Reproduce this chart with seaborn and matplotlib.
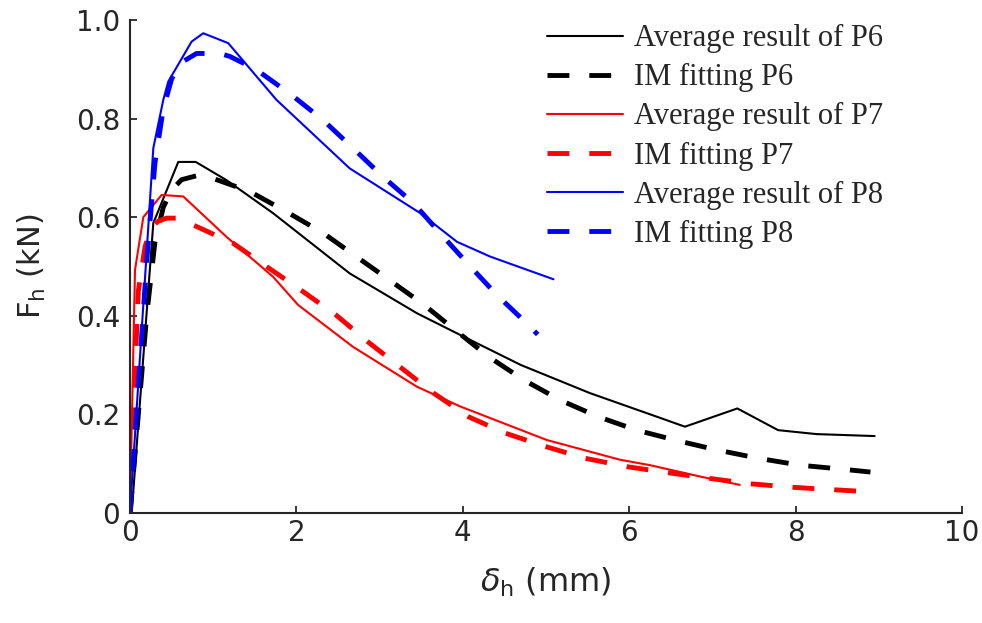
import pandas as pd
import matplotlib
matplotlib.use("Agg")
import matplotlib.pyplot as plt
import seaborn as sns

# Average result of P6
p6_avg_x = [0, 0.02, 0.28, 0.58, 0.79, 1.16, 1.72, 2.64, 3.45, 3.97, 4.7, 5.53, 6.37, 6.67, 7.30, 7.79, 8.25, 8.95]
p6_avg_y = [0, 0.0, 0.588, 0.712, 0.712, 0.675, 0.608, 0.486, 0.405, 0.361, 0.30, 0.243, 0.193, 0.175, 0.212, 0.168, 0.160, 0.156]
# IM fitting P6
p6_fit_x = [0, 0.1, 0.2, 0.3, 0.4, 0.5, 0.62, 0.8, 0.94, 1.44, 1.88, 2.32, 2.72, 3.13, 3.52, 3.93, 4.31, 4.73, 5.17, 5.63, 6.09, 6.57, 7.05, 7.55, 8.05, 8.55, 8.9]
p6_fit_y = [0, 0.2, 0.4, 0.55, 0.62, 0.655, 0.676, 0.684, 0.682, 0.652, 0.611, 0.568, 0.52, 0.471, 0.424, 0.368, 0.317, 0.270, 0.229, 0.195, 0.168, 0.147, 0.128, 0.111, 0.097, 0.089, 0.083]

# Average result of P7
p7_avg_x = [0, 0.03, 0.06, 0.16, 0.38, 0.64, 1.16, 1.72, 2.02, 2.68, 3.45, 3.97, 5.01, 5.89, 6.25, 6.85, 7.33]
p7_avg_y = [0, 0.25, 0.493, 0.60, 0.645, 0.642, 0.56, 0.479, 0.422, 0.337, 0.256, 0.216, 0.148, 0.108, 0.097, 0.074, 0.057]
# IM fitting P7
p7_fit_x = [0, 0.05, 0.1, 0.18, 0.26, 0.34, 0.44, 0.55, 0.8, 1.24, 1.64, 2.08, 2.48, 2.86, 3.27, 3.65, 4.07, 4.51, 4.99, 5.47, 5.97, 6.45, 6.97, 7.47, 7.97, 8.47, 8.89]
p7_fit_y = [0, 0.25, 0.45, 0.54, 0.58, 0.592, 0.598, 0.598, 0.581, 0.547, 0.50, 0.449, 0.401, 0.347, 0.293, 0.243, 0.195, 0.162, 0.135, 0.111, 0.094, 0.082, 0.070, 0.059, 0.052, 0.047, 0.043]

# Average result of P8
p8_avg_x = [0, 0.28, 0.40, 0.46, 0.74, 0.88, 1.18, 1.76, 2.64, 3.49, 3.93, 4.33, 5.09]
p8_avg_y = [0, 0.74, 0.838, 0.875, 0.956, 0.973, 0.953, 0.838, 0.699, 0.608, 0.55, 0.52, 0.474]
# IM fitting P8
p8_fit_x = [0, 0.1, 0.2, 0.3, 0.4, 0.5, 0.6, 0.8, 1.08, 1.20, 1.52, 1.94, 2.32, 2.68, 3.04, 3.41, 3.73, 4.09, 4.41, 4.79, 4.9]
p8_fit_y = [0, 0.26, 0.51, 0.71, 0.82, 0.88, 0.912, 0.932, 0.932, 0.926, 0.899, 0.848, 0.797, 0.74, 0.682, 0.628, 0.567, 0.50, 0.442, 0.381, 0.362]

series = [
    ("Average result of P6", p6_avg_x, p6_avg_y, "black", "solid"),
    ("IM fitting P6", p6_fit_x, p6_fit_y, "black", "dashed"),
    ("Average result of P7", p7_avg_x, p7_avg_y, "red", "solid"),
    ("IM fitting P7", p7_fit_x, p7_fit_y, "red", "dashed"),
    ("Average result of P8", p8_avg_x, p8_avg_y, "blue", "solid"),
    ("IM fitting P8", p8_fit_x, p8_fit_y, "blue", "dashed"),
]

sns.set_style("ticks")
plt.rcParams["font.family"] = ["DejaVu Sans"]

fig = plt.figure(figsize=(9.82, 6.23), dpi=100)
ax = fig.add_axes([0.1324, 0.1766, 0.8472, 0.7914])

for label, xs, ys, col, style in series:
    df = pd.DataFrame({"x": xs, "y": ys})
    if style == "solid":
        sns.lineplot(data=df, x="x", y="y", ax=ax, sort=False, estimator=None,
                     color=col, lw=1.5, label=label)
    else:
        sns.lineplot(data=df, x="x", y="y", ax=ax, sort=False, estimator=None,
                     color=col, lw=3.5, linestyle=(0, (4.5, 4.1)), label=label)

ax.set_xlim(0, 10)
ax.set_ylim(0, 1)
ax.set_xticks([0, 2, 4, 6, 8, 10])
ax.set_xticklabels(["0", "2", "4", "6", "8", "10"])
ax.set_yticks([0, 0.2, 0.4, 0.6, 0.8, 1.0])
ax.set_yticklabels(["0", "0.2", "0.4", "0.6", "0.8", "1.0"])
ax.tick_params(direction="in", length=5, width=1.3, labelsize=20, colors="#262626")
ax.tick_params(axis="y", pad=7)
ax.tick_params(axis="x", pad=4)
for s in ["left", "bottom"]:
    ax.spines[s].set_linewidth(1.5)
    ax.spines[s].set_color("#262626")
sns.despine(ax=ax)

ax.set_xlabel(r"$\delta_\mathrm{h}$ (mm)", fontsize=23, color="#262626", labelpad=14)
ax.set_ylabel(r"F$_\mathrm{h}$ (kN)", fontsize=22, color="#262626", labelpad=20)

leg = ax.legend(loc="upper right", bbox_to_anchor=(0.92, 1.016), frameon=False,
                prop={"family": "Liberation Serif", "size": 22},
                handlelength=2.5, handletextpad=0.35, labelspacing=0.33,
                borderaxespad=0)

fig.savefig("out.png", dpi=100)
